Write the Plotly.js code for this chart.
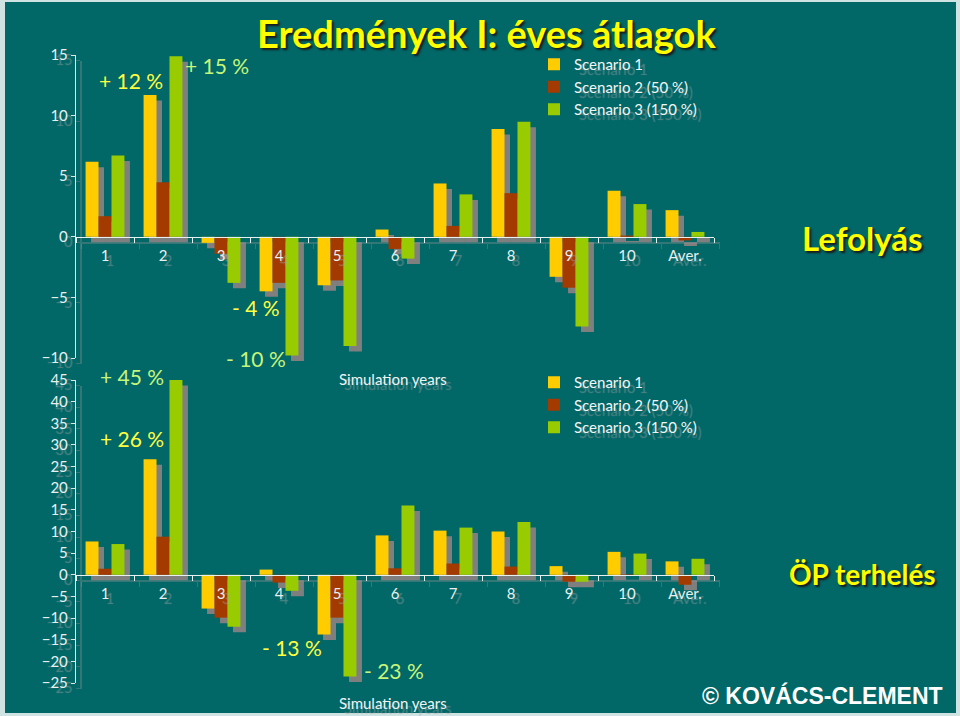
<!DOCTYPE html>
<html>
<head>
<meta charset="utf-8">
<script src="https://cdn.plot.ly/plotly-3.0.1.min.js"></script>
<style>
  html, body { margin: 0; padding: 0; background: #cfe3e3; }
  #chart { width: 960px; height: 716px; }
</style>
</head>
<body>
<div id="chart"></div>
<script>
// categories (simulation years + average)
const years = ['1', '2', '3', '4', '5', '6', '7', '8', '9', '10', 'Aver.'];
const seriesNames = ['Scenario 1', 'Scenario 2 (50 %)', 'Scenario 3 (150 %)'];

// Lefolyás (runoff) - yearly change, %
const runoffS1 = [6.2, 11.7, -0.5, -4.5, -4.0, 0.6, 4.4, 8.9, -3.3, 3.8, 2.2];
const runoffS2 = [1.7, 4.5, -1.4, -3.8, -3.6, -1.0, 0.9, 3.6, -4.2, 0.1, -0.3];
const runoffS3 = [6.7, 14.9, -3.8, -9.8, -9.0, -1.8, 3.5, 9.5, -7.4, 2.7, 0.4];

// ÖP terhelés (total P load) - yearly change, %
const loadS1 = [7.7, 26.7, -7.8, 1.2, -13.8, 9.1, 10.2, 10.0, 2.0, 5.3, 3.1];
const loadS2 = [1.4, 8.8, -9.9, -1.8, -9.9, 1.5, 2.6, 1.9, -1.6, 0.1, -2.3];
const loadS3 = [7.1, 45.7, -12.0, -3.7, -23.5, 16.0, 10.9, 12.2, -1.6, 4.9, 3.7];

const runoffTicks = [-10, -5, 0, 5, 10, 15];
const loadTicks = [-25, -20, -15, -10, -5, 0, 5, 10, 15, 20, 25, 30, 35, 40, 45];

const colors = ['#ffcc00', '#a33a00', '#99cc00'];
const shadowColor = '#7f7f7f';
const teal = '#016767';

const W = 960, H = 716;
const px = v => v / W;
const py = v => 1 - v / H;

// plot areas (pixels)
const xDom = [px(76), px(714)];
const topDom = [py(358), py(55)];
const botDom = [py(683), py(380)];
const topRange = [-10, 15];
const botRange = [-25, 45];
const dx = 5.5 / W, dy = 5.5 / H;

function zeroPos(dom, range) {
  return dom[0] + (0 - range[0]) / (range[1] - range[0]) * (dom[1] - dom[0]);
}

const textShadow = '5px 5px 1px rgba(165,165,165,0.5)';
const labelFont = { family: 'Lato, "Open Sans", sans-serif', size: 15, color: '#e8f0f0', shadow: textShadow };

const traces = [];
const topVals = [runoffS1, runoffS2, runoffS3];
const botVals = [loadS1, loadS2, loadS3];

// shadows first (drawn underneath)
topVals.forEach(v => traces.push({
  type: 'bar', x: years, y: v, xaxis: 'x', yaxis: 'y',
  marker: { color: shadowColor, line: { width: 0 } }, showlegend: false, hoverinfo: 'skip'
}));
botVals.forEach(v => traces.push({
  type: 'bar', x: years, y: v, xaxis: 'x2', yaxis: 'y2',
  marker: { color: shadowColor, line: { width: 0 } }, showlegend: false, hoverinfo: 'skip'
}));
topVals.forEach((v, i) => traces.push({
  type: 'bar', x: years, y: v, xaxis: 'x3', yaxis: 'y3', name: seriesNames[i],
  marker: { color: colors[i], line: { width: 0 } }, legend: 'legend'
}));
botVals.forEach((v, i) => traces.push({
  type: 'bar', x: years, y: v, xaxis: 'x4', yaxis: 'y4', name: seriesNames[i],
  marker: { color: colors[i], line: { width: 0 } }, legend: 'legend2'
}));

function xAxis(dom, range, shadow) {
  const pos = zeroPos(dom, range);
  return {
    domain: shadow ? [xDom[0] + dx, xDom[1] + dx] : xDom,
    anchor: 'free', position: shadow ? pos - dy : pos, type: 'category',
    showline: true, linecolor: shadow ? 'rgba(150,150,150,0.35)' : '#e8f0f0', linewidth: 1.5,
    ticks: 'outside', tickson: 'boundaries', ticklen: 5, tickcolor: shadow ? 'rgba(150,150,150,0.35)' : '#e8f0f0',
    showticklabels: !shadow, tickfont: labelFont, ticklabelstandoff: 5,
    showgrid: false, zeroline: false, fixedrange: true
  };
}
function yAxis(dom, range, ticks, anchor, shadow) {
  return {
    domain: shadow ? [dom[0] - dy, dom[1] - dy] : dom,
    anchor: anchor, range: range, tickvals: ticks,
    showline: true, linecolor: shadow ? 'rgba(150,150,150,0.35)' : '#dce8e8', linewidth: 1.2,
    ticks: 'outside', ticklen: 4, tickcolor: shadow ? 'rgba(150,150,150,0.35)' : '#dce8e8',
    showticklabels: !shadow, tickfont: labelFont,
    showgrid: false, zeroline: false, fixedrange: true
  };
}

const pctFont = (c) => ({ family: 'Lato, "Open Sans", sans-serif', size: 21, color: c });
const yel = '#ffff40', grn = '#c6f57a';
const headFont = { family: 'Lato, "Liberation Sans", sans-serif', size: 38, color: '#ffff00', weight: 700, shadow: '2px 2px 2px #1a1a1a' };
const sideFont = (s) => ({ family: 'Lato, "Liberation Sans", sans-serif', size: s, color: '#ffff00', weight: 700, shadow: '2px 2px 2px #1a1a1a' });
const simFont = { family: 'Lato, "Open Sans", sans-serif', size: 15, color: '#f0f4f4', shadow: textShadow };
const legendFont = { family: 'Lato, "Open Sans", sans-serif', size: 15, color: '#f2f5f5', shadow: textShadow };

function note(text, x, y, font) {
  return { text: text, xref: 'paper', yref: 'paper', x: px(x), y: py(y),
    xanchor: 'center', yanchor: 'middle', showarrow: false, font: font };
}

const layout = {
  width: W, height: H, autosize: false,
  margin: { l: 0, r: 0, t: 0, b: 0 },
  paper_bgcolor: '#cfe3e3', plot_bgcolor: 'rgba(0,0,0,0)',
  barmode: 'group', bargap: 0.33, bargroupgap: 0,
  font: { family: 'Lato, sans-serif', color: '#ffffff' },
  xaxis: xAxis(topDom, topRange, true),
  yaxis: yAxis(topDom, topRange, runoffTicks, 'x', true),
  xaxis2: xAxis(botDom, botRange, true),
  yaxis2: yAxis(botDom, botRange, loadTicks, 'x2', true),
  xaxis3: xAxis(topDom, topRange, false),
  yaxis3: yAxis(topDom, topRange, runoffTicks, 'x3', false),
  xaxis4: xAxis(botDom, botRange, false),
  yaxis4: yAxis(botDom, botRange, loadTicks, 'x4', false),
  legend: {
    x: px(534), y: py(48), xanchor: 'left', yanchor: 'top',
    bgcolor: 'rgba(0,0,0,0)', borderwidth: 0, traceorder: 'normal', font: legendFont
  },
  legend2: {
    x: px(534), y: py(366), xanchor: 'left', yanchor: 'top',
    bgcolor: 'rgba(0,0,0,0)', borderwidth: 0, traceorder: 'normal', font: legendFont
  },
  shapes: [{
    type: 'rect', xref: 'paper', yref: 'paper', layer: 'below',
    x0: px(5), x1: px(956), y0: py(713), y1: py(2),
    fillcolor: teal, line: { width: 0 }
  }],
  annotations: [
    note('Eredmények I: éves átlagok', 486, 33, headFont),
    note('Lefolyás', 862, 238, sideFont(33)),
    note('ÖP terhelés', 862, 574, sideFont(28)),
    note('© KOVÁCS-CLEMENT', 822, 695, { family: '"Liberation Sans", Arial, sans-serif', size: 23, color: '#ffffff', weight: 700 }),
    note('+ 12 %', 131, 80, pctFont(yel)),
    note('+ 15 %', 217, 65, pctFont(grn)),
    note('- 4 %', 256, 307, pctFont(yel)),
    note('- 10 %', 256, 358, pctFont(grn)),
    note('+ 45 %', 132, 376, pctFont(grn)),
    note('+ 26 %', 132, 438, pctFont(yel)),
    note('- 13 %', 292, 647, pctFont(yel)),
    note('- 23 %', 394, 670, pctFont(grn)),
    note('Simulation years', 393, 379, simFont),
    note('Simulation years', 393, 703, simFont)
  ]
};

Plotly.newPlot('chart', traces, layout, { displayModeBar: false, staticPlot: true });
</script>
</body>
</html>
